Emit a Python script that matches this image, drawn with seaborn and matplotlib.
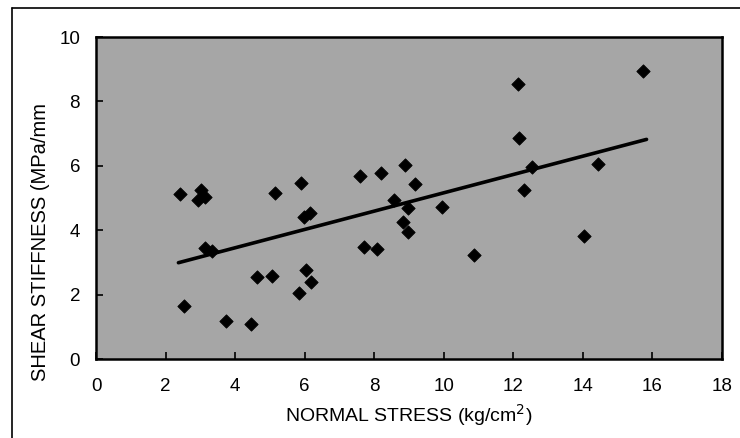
import matplotlib
matplotlib.use('Agg')
import matplotlib.pyplot as plt
import seaborn as sns
import pandas as pd
from matplotlib.lines import Line2D

# values
normal_stress = [2.42, 3.02, 2.94, 3.14, 2.54, 3.14, 3.33, 3.74, 4.45, 4.64,
                 5.07, 5.15, 5.90, 5.97, 6.16, 6.04, 6.18, 5.85, 7.60, 8.19,
                 8.89, 9.18, 8.56, 8.96, 8.84, 8.96, 7.71, 8.08, 15.73, 12.12,
                 12.15, 9.95, 10.88, 12.54, 12.30, 14.44, 14.02]
shear_stiffness = [5.11, 5.25, 4.94, 5.04, 1.66, 3.44, 3.35, 1.18, 1.08, 2.54,
                   2.58, 5.16, 5.48, 4.42, 4.52, 2.76, 2.38, 2.06, 5.69, 5.77,
                   6.02, 5.43, 4.94, 4.70, 4.26, 3.93, 3.49, 3.41, 8.95, 8.54,
                   6.87, 4.71, 3.23, 5.97, 5.25, 6.06, 3.82]

# regression line end points
fit_x = [2.37, 15.83]
fit_y = [2.99, 6.82]

x_ticks = [0, 2, 4, 6, 8, 10, 12, 14, 16, 18]
y_ticks = [0, 2, 4, 6, 8, 10]

sns.set_theme(style='white')
plt.rcParams['font.family'] = ['Liberation Sans', 'DejaVu Sans']

df = pd.DataFrame({'x': normal_stress, 'y': shear_stiffness})
fit_df = pd.DataFrame({'x': fit_x, 'y': fit_y})

fig = plt.figure(figsize=(7.4, 4.38), dpi=100)
ax = fig.add_axes([96 / 740, 1 - 359 / 438, 626 / 740, 322 / 438])
ax.set_facecolor('#a6a6a6')

sns.lineplot(data=fit_df, x='x', y='y', color='black', linewidth=2.6, ax=ax)
sns.scatterplot(data=df, x='x', y='y', marker='D', s=46, color='black',
                edgecolor='black', linewidth=0.6, ax=ax, zorder=3)

ax.set_xlim(0, 18)
ax.set_ylim(0, 10)
ax.set_xticks(x_ticks)
ax.set_yticks(y_ticks)
ax.tick_params(axis='both', direction='in', length=5, width=1.2,
               color='black', labelsize=13.5, labelcolor='black')
ax.tick_params(axis='x', pad=14, bottom=True)
ax.tick_params(axis='y', pad=11.5, left=True)
for sp in ax.spines.values():
    sp.set_color('black')
    sp.set_linewidth(1.8)

ax.set_xlabel('NORMAL STRESS (kg/cm$^2$)', fontsize=14, labelpad=5, color='black')
ax.set_ylabel('')
fig.text(41 / 740, 1 - 242 / 438, 'SHEAR STIFFNESS (MPa/mm', rotation=90,
         ha='center', va='center', fontsize=14.5, color='black')

# outer frame (left and top only, the rest is cut off)
fig.add_artist(Line2D([12 / 740, 12 / 740], [0, 1 - 8 / 438],
                      transform=fig.transFigure, color='black', linewidth=1.2))
fig.add_artist(Line2D([12 / 740, 1], [1 - 8 / 438, 1 - 8 / 438],
                      transform=fig.transFigure, color='black', linewidth=1.2))

fig.savefig('out.png', dpi=100)
